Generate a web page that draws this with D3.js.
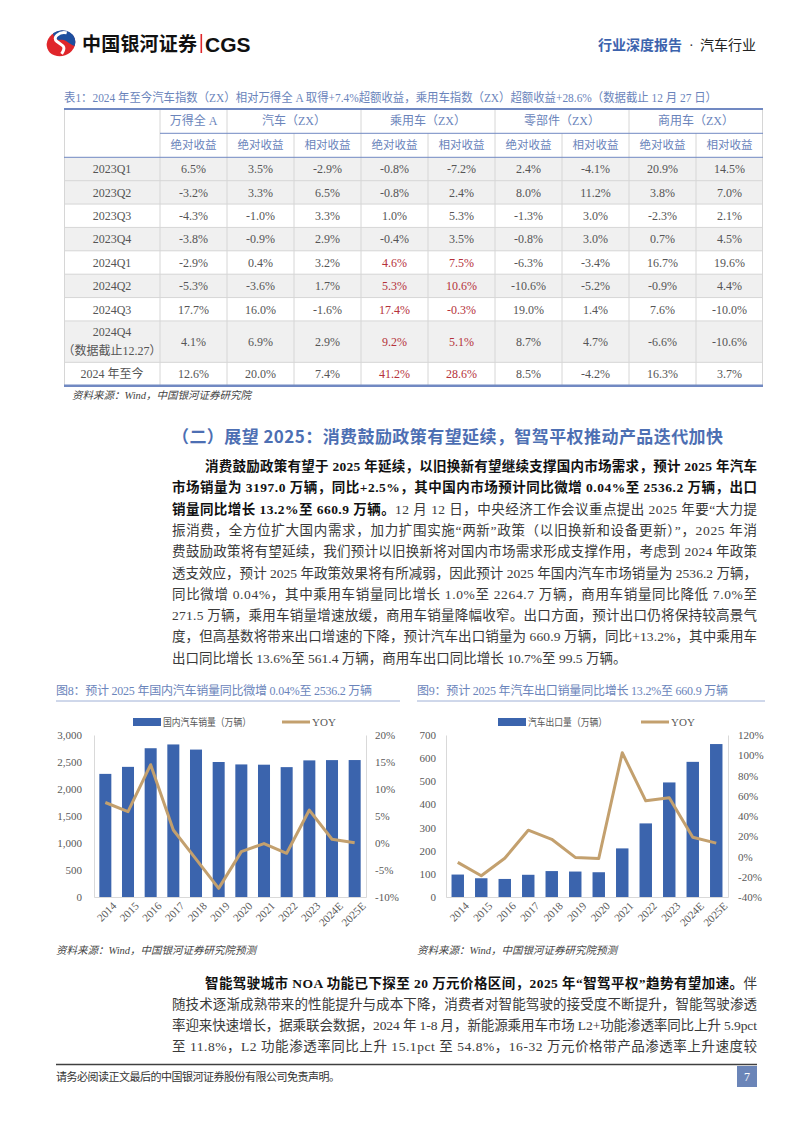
<!DOCTYPE html>
<html><head><meta charset="utf-8">
<script src="https://cdn.jsdelivr.net/npm/d3@7"></script>
<style>
body{margin:0;background:#fff}
svg{display:block}
</style></head><body>
<svg id="page" width="794" height="1123"></svg>
<script>
// ---------- DATA ----------
const years = ["2014","2015","2016","2017","2018","2019","2020","2021","2022","2023","2024E","2025E"];
const domesticSales = [2280,2410,2755,2825,2730,2500,2455,2450,2405,2530,2535,2536.2];
const domesticYoy = [7.5,5.8,14.5,2.4,-3.0,-8.4,-1.6,-0.1,-1.9,6.1,0.7,0.04];
const exportSales = [97,81,78,96,112,110,107,210,318,495,584,660.9];
const exportYoy = [-5.8,-19.0,-1.8,26.0,17.0,-0.9,-2.0,102.5,55.0,58.0,19.0,13.2];
const domesticTicksLeft = [0,500,1000,1500,2000,2500,3000];
const domesticTicksRight = [-10,-5,0,5,10,15,20];
const exportTicksLeft = [0,100,200,300,400,500,600,700];
const exportTicksRight = [-40,-20,0,20,40,60,80,100,120];

const rowLabels = ["2023Q1","2023Q2","2023Q3","2023Q4","2024Q1","2024Q2","2024Q3","2024Q4|（数据截止12.27）","2024 年至今"];
const windAbs  = [6.5,-3.2,-4.3,-3.8,-2.9,-5.3,17.7,4.1,12.6];
const autoAbs  = [3.5,3.3,-1.0,-0.9,0.4,-3.6,16.0,6.9,20.0];
const autoRel  = [-2.9,6.5,3.3,2.9,3.2,1.7,-1.6,2.9,7.4];
const pvAbs    = [-0.8,-0.8,1.0,-0.4,4.6,5.3,17.4,9.2,41.2];
const pvRel    = [-7.2,2.4,5.3,3.5,7.5,10.6,-0.3,5.1,28.6];
const partsAbs = [2.4,8.0,-1.3,-0.8,-6.3,-10.6,19.0,8.7,8.5];
const partsRel = [-4.1,11.2,3.0,3.0,-3.4,-5.2,1.4,4.7,-4.2];
const cvAbs    = [20.9,3.8,-2.3,0.7,16.7,-0.9,7.6,-6.6,16.3];
const cvRel    = [14.5,7.0,2.1,4.5,19.6,4.4,-10.0,-10.6,3.7];
const groupNames = ["万得全 A","汽车（ZX）","乘用车（ZX）","零部件（ZX）","商用车（ZX）"];
const groupSpans = [1,2,2,2,2];
const subHeaders = ["绝对收益","绝对收益","相对收益","绝对收益","相对收益","绝对收益","相对收益","绝对收益","相对收益"];
const rowUnits = [1,1,1,1,1,1,1,1.77,1];
const greyRows = [0,1,3,5,7];

// ---------- STYLE ----------
const SERIF = "'Liberation Serif','Noto Sans CJK SC',serif";
const CJK = "'Noto Sans CJK SC','Liberation Serif',sans-serif";
const BLUE_T = "#6a84bb";
const BAR = "#3b64ad";
const LINE = "#c3a06e";
const svg = d3.select("#page");

// ---------- HEADER ----------
const logo = svg.append("g").attr("transform","translate(61,43.5) rotate(-20)");
logo.append("ellipse").attr("rx",14.5).attr("ry",12.5).attr("fill","#e0262b");
logo.append("path").attr("d","M -4,-12.3 A14.5 12.5 0 0 1 12,7 C 7,3 6,-3 1,-3.5 C -3,-4 -5,-8 -4,-12.3 Z").attr("fill","#1d4f9f");
logo.append("path").attr("d","M 9,-8 C 3,-12 -7,-9 -3,-3 C 0,2 5,4 -3,10").attr("fill","none").attr("stroke","#fff").attr("stroke-width",3);
svg.append("text").attr("x",82).attr("y",51).attr("font-family",CJK).attr("font-weight",700)
  .attr("font-size",19).attr("fill","#111").attr("textLength",115).text("中国银河证券");
svg.append("rect").attr("x",200.5).attr("y",34).attr("width",1.6).attr("height",19).attr("fill","#e0262b");
svg.append("text").attr("x",205).attr("y",51.5).attr("font-family","'Liberation Sans',Arial,sans-serif").attr("font-weight",700)
  .attr("font-size",21).attr("fill","#111").text("CGS");
svg.append("text").attr("x",598).attr("y",50).attr("font-family",CJK).attr("font-weight",700)
  .attr("font-size",14).attr("fill","#3c63ad").attr("textLength",84).text("行业深度报告");
svg.append("text").attr("x",689).attr("y",50).attr("font-family",SERIF).attr("font-size",14).attr("fill","#333").text("·");
svg.append("text").attr("x",700).attr("y",50).attr("font-family",CJK).attr("font-size",14).attr("fill","#222").attr("textLength",56).text("汽车行业");

// ---------- TABLE ----------
svg.append("text").attr("x",64).attr("y",102).attr("font-family",SERIF).attr("font-size",12).attr("fill",BLUE_T)
  .attr("textLength",653).attr("lengthAdjust","spacingAndGlyphs")
  .text("表1：2024 年至今汽车指数（ZX）相对万得全 A 取得+7.4%超额收益，乘用车指数（ZX）超额收益+28.6%（数据截止 12 月 27 日）");

const tblL = 64, tblR = 763, hdrTop = 109, hdrMid = 133.3, hdrBot = 157.3, tblBot = 385.7;
const colX = d3.scaleBand().domain(d3.range(9)).range([160, tblR]);
const cum = [0, ...d3.cumsum(rowUnits)];
const rowY = d3.scaleLinear().domain([0, d3.sum(rowUnits)]).range([hdrBot, tblBot]);
const cols = [windAbs,autoAbs,autoRel,pvAbs,pvRel,partsAbs,partsRel,cvAbs,cvRel];
const tbl = svg.append("g");

rowLabels.forEach((lab,i)=>{
  const y0 = rowY(cum[i]), y1 = rowY(cum[i+1]);
  if (greyRows.includes(i)) tbl.append("rect").attr("x",tblL).attr("y",y0).attr("width",tblR-tblL).attr("height",y1-y0).attr("fill","#f0f0f0");
});
const GRID="#d6d6d6";
rowLabels.forEach((lab,i)=>{
  if (i>0) tbl.append("line").attr("x1",tblL).attr("x2",tblR).attr("y1",rowY(cum[i])).attr("y2",rowY(cum[i])).attr("stroke",GRID);
});
tbl.append("line").attr("x1",tblL+0.5).attr("x2",tblL+0.5).attr("y1",hdrTop).attr("y2",tblBot).attr("stroke",GRID);
tbl.append("line").attr("x1",tblR-0.5).attr("x2",tblR-0.5).attr("y1",hdrTop).attr("y2",tblBot).attr("stroke",GRID);
let gi = 0, starts = [];
groupSpans.forEach(s=>{starts.push(gi); gi+=s;});
d3.range(9).forEach(c=>{
  const x = colX(c);
  const isGroupStart = starts.includes(c);
  tbl.append("line").attr("x1",x).attr("x2",x).attr("y1",isGroupStart?hdrTop:hdrMid).attr("y2",tblBot).attr("stroke",GRID);
});
groupNames.forEach((g,k)=>{
  const x0 = colX(starts[k]), x1 = colX(starts[k]+groupSpans[k]-1)+colX.bandwidth();
  tbl.append("text").attr("x",(x0+x1)/2).attr("y",(hdrTop+hdrMid)/2).attr("dy","0.36em").attr("text-anchor","middle")
    .attr("font-family",SERIF).attr("font-size",12).attr("fill",BLUE_T).text(g);
});
subHeaders.forEach((s,c)=>{
  tbl.append("text").attr("x",colX(c)+colX.bandwidth()/2).attr("y",(hdrMid+hdrBot)/2).attr("dy","0.36em").attr("text-anchor","middle")
    .attr("font-family",SERIF).attr("font-size",11.5).attr("fill",BLUE_T).text(s);
});
rowLabels.forEach((lab,i)=>{
  const yc = (rowY(cum[i])+rowY(cum[i+1]))/2;
  const parts = lab.split("|");
  parts.forEach((p,k)=>{
    tbl.append("text").attr("x",112).attr("y",yc+(k-(parts.length-1)/2)*19).attr("dy","0.36em").attr("text-anchor","middle")
      .attr("font-family",SERIF).attr("font-size",12).attr("fill","#555").text(p);
  });
  cols.forEach((arr,c)=>{
    const red = (c===3||c===4) && i>=4;
    tbl.append("text").attr("x",colX(c)+colX.bandwidth()/2).attr("y",yc).attr("dy","0.36em").attr("text-anchor","middle")
      .attr("font-family",SERIF).attr("font-size",12).attr("fill",red?"#b5323a":"#555").text(arr[i].toFixed(1)+"%");
  });
});
const RULE="#7189c2";
tbl.append("line").attr("x1",tblL).attr("x2",tblR).attr("y1",hdrTop).attr("y2",hdrTop).attr("stroke",RULE).attr("stroke-width",2);
tbl.append("line").attr("x1",160).attr("x2",tblR).attr("y1",hdrMid).attr("y2",hdrMid).attr("stroke",RULE).attr("stroke-width",1);
tbl.append("line").attr("x1",tblL).attr("x2",tblR).attr("y1",hdrBot).attr("y2",hdrBot).attr("stroke",RULE).attr("stroke-width",1);
tbl.append("line").attr("x1",tblL).attr("x2",tblR).attr("y1",tblBot).attr("y2",tblBot).attr("stroke",RULE).attr("stroke-width",2.5);

svg.append("text").attr("x",72).attr("y",399).attr("font-family",SERIF).attr("font-style","italic").attr("font-size",10.5)
  .attr("fill","#444").text("资料来源：Wind，中国银河证券研究院");

// ---------- HEADING & BODY ----------
svg.append("text").attr("x",172).attr("y",443).attr("font-family",CJK).attr("font-weight",700).attr("font-size",17)
  .attr("fill","#4d6fb3").attr("textLength",551).text("（二）展望 2025：消费鼓励政策有望延续，智驾平权推动产品迭代加快");

function bodyLines(lines, y0, lh){
  lines.forEach((ln,i)=>{
    const t = svg.append("text").attr("x",ln.x||172).attr("y",y0+i*lh).attr("font-family",SERIF).attr("font-size",13.5).attr("fill","#3a3a3a");
    if (!ln.last) t.attr("textLength",757-(ln.x||172)).attr("lengthAdjust","spacing");
    ln.segs.forEach(s=>{
      t.append("tspan").attr("font-weight",s[1]?700:400).attr("fill",s[1]?"#111":"#3a3a3a").text(s[0]);
    });
  });
}
bodyLines([
  {x:205,segs:[["消费鼓励政策有望于 2025 年延续，以旧换新有望继续支撑国内市场需求，预计 2025 年汽车",1]]},
  {segs:[["市场销量为 3197.0 万辆，同比+2.5%，其中国内市场预计同比微增 0.04%至 2536.2 万辆，出口",1]]},
  {segs:[["销量同比增长 13.2%至 660.9 万辆。",1],["12 月 12 日，中央经济工作会议重点提出 2025 年要“大力提",0]]},
  {segs:[["振消费，全方位扩大国内需求，加力扩围实施“两新”政策（以旧换新和设备更新）”，2025 年消",0]]},
  {segs:[["费鼓励政策将有望延续，我们预计以旧换新将对国内市场需求形成支撑作用，考虑到 2024 年政策",0]]},
  {segs:[["透支效应，预计 2025 年政策效果将有所减弱，因此预计 2025 年国内汽车市场销量为 2536.2 万辆，",0]]},
  {segs:[["同比微增 0.04%，其中乘用车销量同比增长 1.0%至 2264.7 万辆，商用车销量同比降低 7.0%至",0]]},
  {segs:[["271.5 万辆，乘用车销量增速放缓，商用车销量降幅收窄。出口方面，预计出口仍将保持较高景气",0]]},
  {segs:[["度，但高基数将带来出口增速的下降，预计汽车出口销量为 660.9 万辆，同比+13.2%，其中乘用车",0]]},
  {last:true,segs:[["出口同比增长 13.6%至 561.4 万辆，商用车出口同比增长 10.7%至 99.5 万辆。",0]]}
], 471, 21.3);
bodyLines([
  {x:205,segs:[["智能驾驶城市 NOA 功能已下探至 20 万元价格区间，2025 年“智驾平权”趋势有望加速。",1],["伴",0]]},
  {segs:[["随技术逐渐成熟带来的性能提升与成本下降，消费者对智能驾驶的接受度不断提升，智能驾驶渗透",0]]},
  {segs:[["率迎来快速增长，据乘联会数据，2024 年 1-8 月，新能源乘用车市场 L2+功能渗透率同比上升 5.9pct",0]]},
  {segs:[["至 11.8%，L2 功能渗透率同比上升 15.1pct 至 54.8%，16-32 万元价格带产品渗透率上升速度较",0]]}
], 987.5, 21.3);

// ---------- CHARTS ----------
function drawChart(cfg){
  const g = svg.append("g");
  g.append("text").attr("x",cfg.titleX).attr("y",695).attr("font-family",SERIF).attr("font-size",12).attr("fill",BLUE_T)
    .attr("textLength",cfg.titleW).text(cfg.title);
  g.append("line").attr("x1",cfg.titleX).attr("x2",cfg.ruleR).attr("y1",701).attr("y2",701).attr("stroke","#9fb0d6").attr("stroke-width",1);
  const yTop=735, yBot=897;
  const x = d3.scaleBand().domain(years).range([cfg.x0,cfg.x1]).paddingInner(0.47).paddingOuter(0.235);
  const yL = d3.scaleLinear().domain([cfg.leftTicks[0], cfg.leftTicks[cfg.leftTicks.length-1]]).range([yBot,yTop]);
  const yR = d3.scaleLinear().domain([cfg.rightTicks[0], cfg.rightTicks[cfg.rightTicks.length-1]]).range([yBot,yTop]);
  g.selectAll(".bar").data(cfg.bars).join("rect")
    .attr("x",(d,i)=>x(years[i])).attr("width",x.bandwidth())
    .attr("y",d=>yL(d)).attr("height",d=>yBot-yL(d)).attr("fill",BAR);
  const axL = g.append("g").attr("transform",`translate(${cfg.x0},0)`)
    .call(d3.axisLeft(yL).tickValues(cfg.leftTicks).tickSize(0).tickSizeOuter(0).tickPadding(cfg.padL).tickFormat(d3.format(",")));
  const axR = g.append("g").attr("transform",`translate(${cfg.x1},0)`)
    .call(d3.axisRight(yR).tickValues(cfg.rightTicks).tickSize(0).tickSizeOuter(0).tickPadding(cfg.padR).tickFormat(d=>d+"%"));
  const axB = g.append("g").attr("transform",`translate(0,${yBot})`)
    .call(d3.axisBottom(x).tickSize(0).tickSizeOuter(0).tickPadding(0));
  [axL,axR,axB].forEach(a=>{
    a.select(".domain").attr("stroke","#d9d9d9");
    a.selectAll("text").attr("font-family",SERIF).attr("font-size",11).attr("fill","#595959");
  });
  axB.selectAll("text").attr("text-anchor","end").attr("dy","0.35em").attr("y",0)
    .attr("transform",d=>`translate(${x.bandwidth()/2+3},7) rotate(-45)`);
  const ln = d3.line().x((d,i)=>x(years[i])+x.bandwidth()/2).y(d=>yR(d));
  g.append("path").datum(cfg.yoy).attr("d",ln).attr("fill","none").attr("stroke",LINE).attr("stroke-width",3).attr("stroke-linejoin","round");
  g.append("rect").attr("x",cfg.legRect).attr("y",718).attr("width",28).attr("height",8).attr("fill",BAR);
  g.append("text").attr("x",cfg.legRect+30).attr("y",722).attr("dy","0.36em").attr("font-family",CJK).attr("font-size",10.5)
    .attr("fill","#595959").attr("textLength",cfg.legTextW).attr("lengthAdjust","spacingAndGlyphs").text(cfg.legName);
  g.append("line").attr("x1",cfg.legLine).attr("x2",cfg.legLine+28).attr("y1",722).attr("y2",722).attr("stroke",LINE).attr("stroke-width",3);
  g.append("text").attr("x",cfg.legLine+30).attr("y",722).attr("dy","0.36em").attr("font-family",SERIF).attr("font-size",11)
    .attr("fill","#595959").text("YOY");
  g.append("text").attr("x",cfg.titleX).attr("y",954).attr("font-family",SERIF).attr("font-style","italic").attr("font-size",10.5)
    .attr("fill","#444").text("资料来源：Wind，中国银河证券研究院预测");
}
drawChart({title:"图8：预计 2025 年国内汽车销量同比微增 0.04%至 2536.2 万辆", titleX:56, titleW:316, ruleR:400,
  x0:94, x1:366, bars:domesticSales, yoy:domesticYoy, leftTicks:domesticTicksLeft, rightTicks:domesticTicksRight,
  padL:12, padR:9, legRect:133, legTextW:88, legName:"国内汽车销量（万辆）", legLine:282});
drawChart({title:"图9：预计 2025 年汽车出口销量同比增长 13.2%至 660.9 万辆", titleX:417, titleW:311, ruleR:765,
  x0:446, x1:728, bars:exportSales, yoy:exportYoy, leftTicks:exportTicksLeft, rightTicks:exportTicksRight,
  padL:10, padR:10, legRect:498, legTextW:79, legName:"汽车出口量（万辆）", legLine:641});

// ---------- FOOTER ----------
svg.append("line").attr("x1",56).attr("x2",757).attr("y1",1064.5).attr("y2",1064.5).attr("stroke","#404040").attr("stroke-width",1.5);
svg.append("text").attr("x",56).attr("y",1081).attr("font-family",CJK).attr("font-size",11).attr("fill","#333")
  .attr("textLength",284).text("请务必阅读正文最后的中国银河证券股份有限公司免责声明。");
svg.append("rect").attr("x",737).attr("y",1066).attr("width",20).attr("height",21).attr("fill","#6b85b8");
svg.append("text").attr("x",747).attr("y",1076.5).attr("dy","0.36em").attr("text-anchor","middle").attr("font-family",SERIF)
  .attr("font-size",12).attr("fill","#fff").text("7");
</script>
</body></html>
